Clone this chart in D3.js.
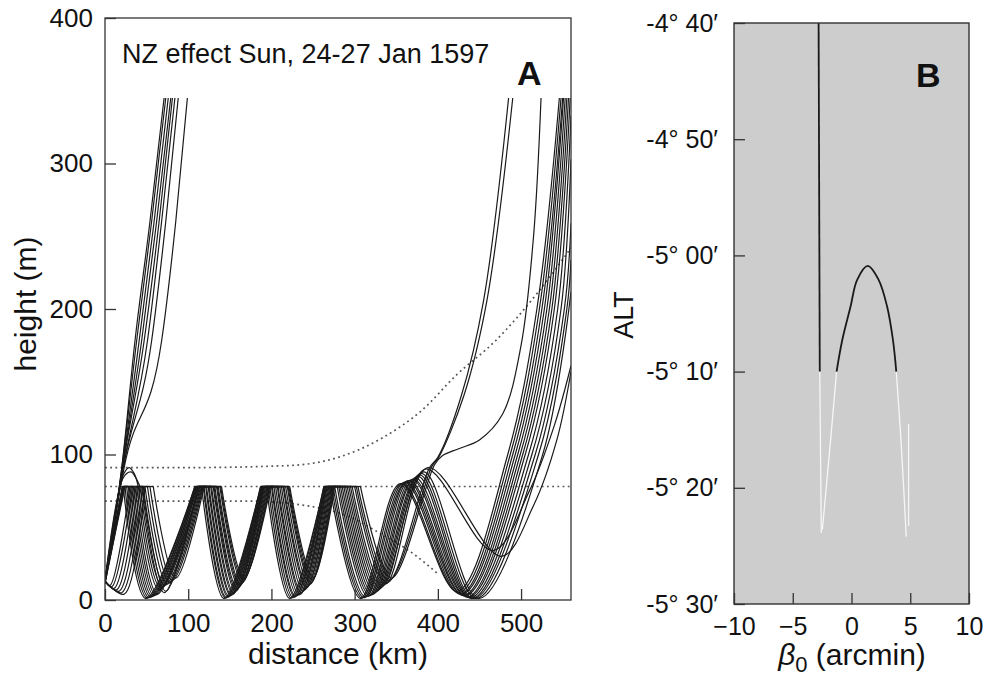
<!DOCTYPE html>
<html>
<head>
<meta charset="utf-8">
<script src="https://cdn.jsdelivr.net/npm/d3@7"></script>
<style>
  body { margin: 0; background: #fff; }
  svg { font-family: "Liberation Sans", Arial, Helvetica, sans-serif; }
</style>
</head>
<body>
<script>
// ---------- panel A : ray paths, distance (km) vs height (m) ----------
const xTicksA = [0, 100, 200, 300, 400, 500];
const yTicksA = [0, 100, 200, 300, 400];
const ductTop = 78;   // rays run along the inversion at this height

// launch part of each trapped ray, ending where it reaches the duct top
const heads = [
  [[0, 13], [21, 78]],
  [[0, 13], [21, 78]],
  [[0, 14], [21, 78]],
  [[0, 12], [22, 78]],
  [[0, 13], [22, 78]],
  [[0, 15], [22, 78]],
  [[0, 11], [23, 78]],
  [[0, 13], [23, 78]],
  [[0, 13], [22, 86], [29, 91], [35, 87], [40, 78]],
  [[0, 13], [22, 84], [31, 88], [37, 84], [42, 78]],
  [[0, 12], [24, 78]],
  [[0, 13], [6, 10], [30, 78]],
  [[0, 13], [8, 9], [33, 78]],
  [[0, 13], [11, 8], [36, 78]],
  [[0, 13], [14, 7], [39, 78]],
  [[0, 13], [17, 6], [42, 78]],
  [[0, 13], [20, 5], [45, 78]],
  [[0, 13], [23, 4], [48, 78]]
];

// per ray: where it leaves the duct top (e), its trough (t, troughH), where it rejoins (s)
const troughH = [1, 1.3, 1.6, 2, 2.5, 3, 3.5, 4, 5, 6, 7, 8, 9, 10, 11, 12, 13.5, 15];
const e1  = [22, 24, 26, 28, 30, 32, 34, 36, 44, 46, 38, 40, 42, 45, 48, 51, 54, 58];
const t1x = [49, 51, 53, 55, 57, 59, 61, 63, 71, 73, 65, 67, 69, 72, 75, 78, 81, 85];
const s2  = [108, 108, 109, 109, 110, 110, 111, 111, 112, 112, 113, 113, 114, 115, 116, 117, 118, 119];
const e2  = [116, 118, 119, 121, 122, 124, 125, 127, 128, 130, 131, 132, 134, 135, 136, 138, 139, 140];
const t2x = [143, 145, 146, 148, 149, 151, 152, 154, 155, 157, 158, 159, 161, 162, 163, 165, 166, 167];
const s3  = [187, 187, 188, 188, 189, 189, 190, 190, 191, 191, 192, 193, 194, 195, 196, 197, 198, 199];
const e3  = [194, 196, 198, 200, 201, 203, 205, 207, 208, 210, 212, 214, 215, 217, 219, 220, 221, 222];
const t3x = [222, 224, 226, 228, 229, 231, 233, 235, 236, 238, 240, 242, 243, 245, 247, 248, 249, 250];
const s4  = [263, 263, 264, 264, 265, 265, 266, 266, 267, 268, 269, 270, 271, 272, 273, 274, 275, 276];
const e4  = [270, 272, 274, 276, 279, 281, 283, 285, 287, 289, 291, 293, 295, 297, 300, 302, 304, 307];
const t4x = [307, 309, 311, 313, 316, 318, 320, 322, 324, 326, 328, 330, 332, 334, 337, 339, 341, 344];

// fifth hump and what each ray does afterwards
const tails = [
  [[355, 80], [423, 6], [484, 100], [519, 200], [546, 345]],
  [[357, 80], [425, 5], [487, 100], [522, 200], [548, 345]],
  [[360, 81], [427, 4], [490, 100], [525, 200], [550, 345]],
  [[362, 81], [429, 4], [493, 100], [528, 200], [551, 345]],
  [[364, 82], [431, 3], [496, 100], [531, 200], [553, 345]],
  [[366, 82], [433, 3], [499, 100], [534, 200], [555, 345]],
  [[369, 83], [435, 2], [502, 100], [537, 200], [557, 345]],
  [[371, 83], [437, 2], [505, 100], [540, 200], [559, 345]],
  [[373, 84], [439, 1.5], [509, 100], [544, 200], [560, 333]],
  [[376, 85], [441, 1], [513, 100], [548, 200], [560, 303]],
  [[378, 86], [443, 1], [517, 100], [552, 200], [560, 259]],
  [[380, 87], [446, 1], [521, 100], [555, 200], [560, 234]],
  [[383, 88], [449, 1], [526, 100], [560, 212]],
  [[385, 90], [466, 34], [510, 75], [540, 120], [560, 161]],
  [[388, 91], [476, 30], [515, 65], [543, 110], [560, 157]],
  [[390, 91], [400, 98], [428, 140], [455, 206], [485, 345]],
  [[393, 92], [401, 98], [431, 140], [459, 206], [490, 345]],
  [[396, 93], [405, 99], [425, 104], [450, 110], [478, 128], [500, 175], [515, 250], [524, 345]]
];

// rays that leave the duct straight away
const escapeRays = [
  [[0, 13], [20, 90], [36, 178], [54, 260], [71, 345]],
  [[0, 13], [20, 90], [38, 178], [56, 260], [73, 345]],
  [[0, 13], [21, 91], [41, 178], [59, 260], [76, 345]],
  [[0, 13], [21, 91], [44, 178], [62, 260], [79, 345]],
  [[0, 13], [21, 91], [47, 178], [65, 260], [81, 345]],
  [[0, 13], [22, 91], [51, 178], [68, 260], [84, 345]],
  [[0, 13], [22, 91], [56, 178], [73, 260], [88, 345]],
  [[0, 13], [23, 91], [68, 178], [85, 260], [99, 345]]
];

// dotted profiles
const dotUpper = [[0, 91], [100, 91], [200, 92], [236, 93], [280, 98], [332, 111], [380, 130], [423, 155], [469, 178], [521, 212], [560, 242]];
const dotMid   = [[0, 78], [560, 78]];
const dotLower = [[0, 68], [170, 68], [240, 65], [294, 57], [333, 45], [370, 32], [400, 18]];

// ---------- panel B : ALT vs beta0 ----------
const xTicksB = [-10, -5, 0, 5, 10];
const altTicks = [-330, -320, -310, -300, -290, -280];   // arcmin
const altLabels = ["-5\u00B0 30\u2032", "-5\u00B0 20\u2032", "-5\u00B0 10\u2032", "-5\u00B0 00\u2032", "-4\u00B0 50\u2032", "-4\u00B0 40\u2032"];

const bVertical  = [[-2.8, -280], [-2.7, -310]];
const bVertWhite = [[-2.7, -310], [-2.57, -323.9]];
const bArch      = [[-1.27, -310], [-0.79, -307.3], [-0.08, -304.4], [0.48, -302.1], [1.38, -300.9], [2.31, -302.1], [3.03, -304.4], [3.53, -307.3], [3.81, -310]];
const bLeftWhite = [[-1.27, -310], [-1.78, -315.9], [-2.48, -323.6]];
const bRightWhite= [[3.81, -310], [4.21, -315.9], [4.66, -324.2]];
const bShortWhite= [[4.86, -314.5], [4.86, -323.3]];

// ---------- drawing ----------
const svg = d3.select("body").append("svg")
  .attr("width", 983)
  .attr("height", 679);

const xA = d3.scaleLinear().domain([0, 560]).range([105, 571]);
const yA = d3.scaleLinear().domain([0, 400]).range([600, 18]);

svg.append("clipPath").attr("id", "clipA")
  .append("rect")
  .attr("x", 105).attr("y", 18)
  .attr("width", 466).attr("height", 582);

const lineA = d3.line()
  .x(d => xA(d[0]))
  .y(d => yA(d[1]))
  .curve(d3.curveMonotoneX);

const rayLine = d3.line()
  .x(d => xA(d[0]))
  .y(d => yA(d[1]))
  .curve(d3.curveCatmullRom.alpha(0.5));

// every ray is split where it touches the duct top, so the tops stay sharp
const segments = [];
heads.forEach((head, j) => {
  const s1 = head[head.length - 1][0];
  segments.push(head);
  segments.push([[s1, ductTop], [e1[j], ductTop]]);
  segments.push([[e1[j], ductTop], [t1x[j], troughH[j]], [s2[j], ductTop]]);
  segments.push([[s2[j], ductTop], [e2[j], ductTop]]);
  segments.push([[e2[j], ductTop], [t2x[j], troughH[j]], [s3[j], ductTop]]);
  segments.push([[s3[j], ductTop], [e3[j], ductTop]]);
  segments.push([[e3[j], ductTop], [t3x[j], troughH[j]], [s4[j], ductTop]]);
  segments.push([[s4[j], ductTop], [e4[j], ductTop]]);
  segments.push([[e4[j], ductTop], [t4x[j], troughH[j]]].concat(tails[j]));
});

const gA = svg.append("g").attr("clip-path", "url(#clipA)");

gA.selectAll("path.dot")
  .data([dotUpper, dotMid, dotLower])
  .enter()
  .append("path")
  .attr("d", lineA)
  .attr("fill", "none")
  .attr("stroke", "#555")
  .attr("stroke-width", 1.7)
  .attr("stroke-dasharray", "1.8,3.4");

gA.selectAll("path.ray")
  .data(segments)
  .enter()
  .append("path")
  .attr("d", rayLine)
  .attr("fill", "none")
  .attr("stroke", "#1a1a1a")
  .attr("stroke-width", 1.2);

gA.selectAll("path.esc")
  .data(escapeRays)
  .enter()
  .append("path")
  .attr("d", lineA)
  .attr("fill", "none")
  .attr("stroke", "#1a1a1a")
  .attr("stroke-width", 1.2);

// frame A
svg.append("rect")
  .attr("x", 105).attr("y", 18)
  .attr("width", 466).attr("height", 582)
  .attr("fill", "none")
  .attr("stroke", "#333")
  .attr("stroke-width", 1.3);

const axA_x = svg.append("g")
  .attr("transform", "translate(0,600)")
  .call(d3.axisBottom(xA).tickValues(xTicksA).tickSize(-11).tickPadding(14));
const axA_y = svg.append("g")
  .attr("transform", "translate(105,0)")
  .call(d3.axisLeft(yA).tickValues(yTicksA).tickSize(-11).tickPadding(12));

[axA_x, axA_y].forEach(ax => {
  ax.select(".domain").remove();
  ax.selectAll("line").attr("stroke", "#333").attr("stroke-width", 1.3);
  ax.selectAll("text").attr("font-size", 26).attr("fill", "#111")
    .attr("font-family", "Liberation Sans, Arial, sans-serif");
});

svg.append("text")
  .attr("x", 122).attr("y", 63)
  .attr("font-size", 27)
  .attr("fill", "#111")
  .text("NZ effect Sun, 24-27 Jan 1597");

svg.append("text")
  .attr("x", 517).attr("y", 85)
  .attr("font-size", 34)
  .attr("font-weight", "bold")
  .attr("fill", "#111")
  .text("A");

svg.append("text")
  .attr("x", 338).attr("y", 664)
  .attr("text-anchor", "middle")
  .attr("font-size", 30)
  .attr("fill", "#111")
  .text("distance (km)");

svg.append("text")
  .attr("transform", "translate(36,304) rotate(-90)")
  .attr("text-anchor", "middle")
  .attr("font-size", 30)
  .attr("fill", "#111")
  .text("height (m)");

// ---------- panel B ----------
const xB = d3.scaleLinear().domain([-10, 10]).range([734, 969]);
const yB = d3.scaleLinear().domain([-330, -280]).range([604, 23]);

svg.append("rect")
  .attr("x", 734).attr("y", 23)
  .attr("width", 235).attr("height", 581)
  .attr("fill", "#cdcdcd");

const lineB = d3.line()
  .x(d => xB(d[0]))
  .y(d => yB(d[1]))
  .curve(d3.curveCatmullRom.alpha(0.5));

svg.selectAll("path.white")
  .data([bVertWhite, bLeftWhite, bRightWhite, bShortWhite])
  .enter()
  .append("path")
  .attr("d", lineB)
  .attr("fill", "none")
  .attr("stroke", "#f6f6f6")
  .attr("stroke-width", 1.3);

svg.selectAll("path.black")
  .data([bVertical, bArch])
  .enter()
  .append("path")
  .attr("d", lineB)
  .attr("fill", "none")
  .attr("stroke", "#1a1a1a")
  .attr("stroke-width", 1.8);

svg.append("rect")
  .attr("x", 734).attr("y", 23)
  .attr("width", 235).attr("height", 581)
  .attr("fill", "none")
  .attr("stroke", "#333")
  .attr("stroke-width", 1.4);

const axB_x = svg.append("g")
  .attr("transform", "translate(0,604)")
  .call(d3.axisBottom(xB).tickValues(xTicksB).tickSize(-11).tickPadding(13));
const axB_y = svg.append("g")
  .attr("transform", "translate(734,0)")
  .call(d3.axisLeft(yB).tickValues(altTicks).tickFormat((d, i) => altLabels[i]).tickSize(-11).tickPadding(16));

[axB_x, axB_y].forEach(ax => {
  ax.select(".domain").remove();
  ax.selectAll("line").attr("stroke", "#333").attr("stroke-width", 1.3);
  ax.selectAll("text").attr("font-size", 25).attr("fill", "#111")
    .attr("font-family", "Liberation Sans, Arial, sans-serif");
});

svg.append("text")
  .attr("x", 916).attr("y", 87)
  .attr("font-size", 34)
  .attr("font-weight", "bold")
  .attr("fill", "#111")
  .text("B");

svg.append("text")
  .attr("transform", "translate(633,315) rotate(-90)")
  .attr("text-anchor", "middle")
  .attr("font-size", 27)
  .attr("fill", "#111")
  .text("ALT");

const betaLabel = svg.append("text")
  .attr("x", 852).attr("y", 665)
  .attr("text-anchor", "middle")
  .attr("font-size", 30)
  .attr("fill", "#111");
betaLabel.append("tspan").attr("font-style", "italic").text("\u03B2");
betaLabel.append("tspan").attr("font-size", 22).attr("dy", 7).text("0");
betaLabel.append("tspan").attr("dy", -7).text(" (arcmin)");
</script>
</body>
</html>
